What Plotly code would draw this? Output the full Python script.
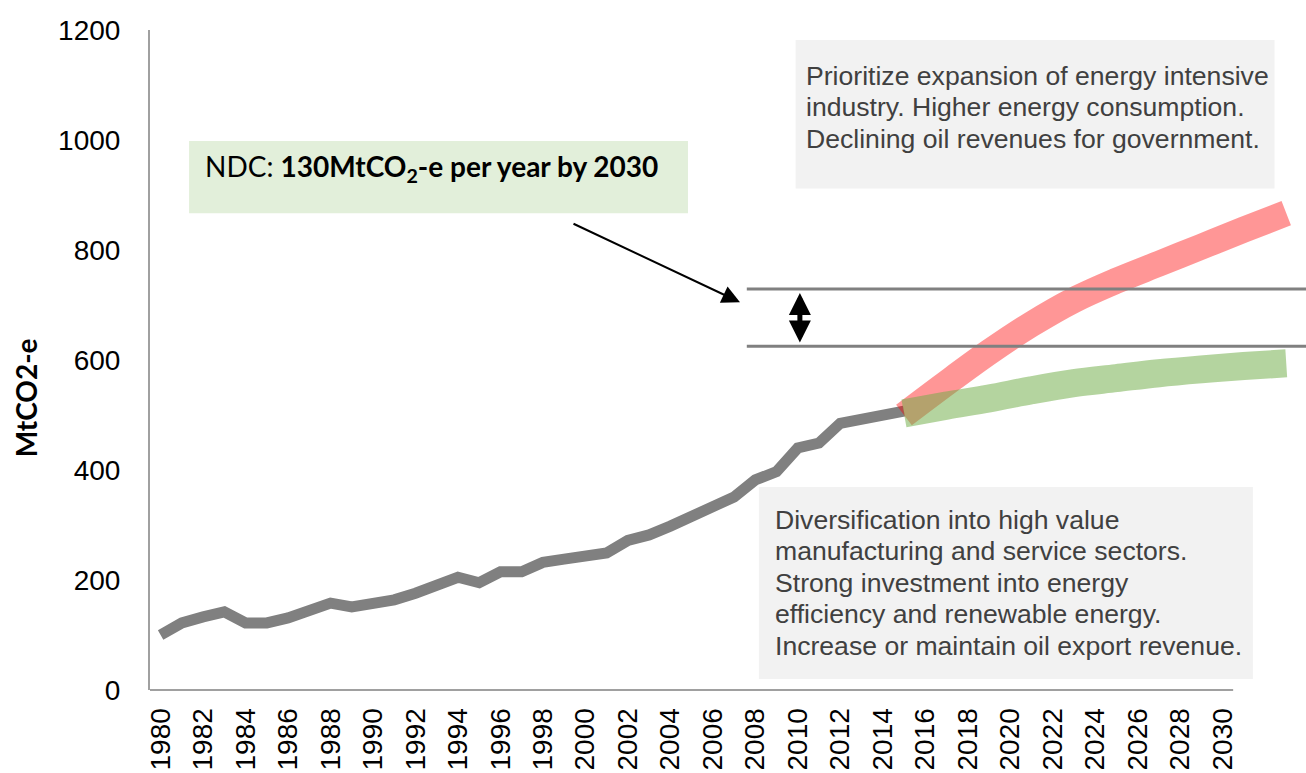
import plotly.graph_objects as go

# ---- data ----
hist_years = list(range(1980, 2016))
hist_values = [100, 122, 133, 142, 122, 122, 131, 144, 158, 151,
               155, 164, 176, 190, 205, 195, 215, 215, 232, 238,
               245, 249, 272, 282, 298, 315, 333, 351, 382, 397,
               440, 449, 485, 493, 503, 507]

proj_years = [2015, 2017, 2019, 2021, 2023, 2025, 2027, 2029, 2031, 2033]
high_values = [500, 558, 614, 665, 709, 744, 775, 806, 837, 867]
low_values = [503, 517, 530, 545, 558, 567, 576, 583, 589, 594]

ndc_levels = [729, 625]
x_ticks = list(range(1980, 2031, 2))
y_ticks = list(range(0, 1201, 200))

top_text = ["Prioritize expansion of energy intensive",
            "industry. Higher energy consumption.",
            "Declining oil revenues for government."]
bottom_text = ["Diversification into high value",
               "manufacturing and service sectors.",
               "Strong investment into energy",
               "efficiency and renewable energy.",
               "Increase or maintain oil export revenue."]

ARIAL = "Liberation Sans, Arial, sans-serif"
TXT = "#404040"

fig = go.Figure()

fig.add_trace(go.Scatter(x=hist_years, y=hist_values, mode="lines",
                         line=dict(color="#808080", width=11),
                         hoverinfo="skip", showlegend=False))
fig.add_trace(go.Scatter(x=proj_years, y=high_values, mode="lines",
                         line=dict(color="rgba(255,0,0,0.41)", width=26, shape="spline"),
                         hoverinfo="skip", showlegend=False))
fig.add_trace(go.Scatter(x=proj_years, y=low_values, mode="lines",
                         line=dict(color="rgba(112,173,71,0.52)", width=28, shape="spline"),
                         hoverinfo="skip", showlegend=False))

shapes = []
# x-axis line (only over the categories)
shapes.append(dict(type="line", xref="x", yref="paper", x0=1979.5, x1=2030.5, y0=0, y1=0,
                   line=dict(color="#A0A0A0", width=2), layer="above"))
# NDC level lines
for lv in ndc_levels:
    shapes.append(dict(type="line", xref="x", yref="y", x0=2007.6, x1=2035, y0=lv, y1=lv,
                       line=dict(color="#808080", width=3), layer="above"))
# text boxes
shapes.append(dict(type="rect", xref="x", yref="y", x0=2009.9, x1=2032.45, y0=912, y1=1182,
                   fillcolor="#F2F2F2", line=dict(width=0), layer="below"))
shapes.append(dict(type="rect", xref="x", yref="y", x0=2008.17, x1=2031.43, y0=20, y1=369,
                   fillcolor="#F2F2F2", line=dict(width=0), layer="below"))
shapes.append(dict(type="rect", xref="x", yref="y", x0=1981.34, x1=2004.83, y0=867, y1=998,
                   fillcolor="#E2EFDA", line=dict(width=0), layer="below"))

annotations = []
for txt, yv in zip(top_text, [1116, 1060, 1002]):
    annotations.append(dict(x=2010.3, y=yv, xref="x", yref="y", text=txt, showarrow=False,
                            xanchor="left", yanchor="middle",
                            font=dict(family=ARIAL, size=26.6, color=TXT)))
for txt, yv in zip(bottom_text, [309, 253, 195, 138, 80]):
    annotations.append(dict(x=2008.85, y=yv, xref="x", yref="y", text=txt, showarrow=False,
                            xanchor="left", yanchor="middle",
                            font=dict(family=ARIAL, size=26.6, color=TXT)))
annotations.append(dict(x=1982.0, y=949, xref="x", yref="y",
                        text="NDC: <b>130MtCO<sub>2</sub>-e per year by 2030</b>",
                        showarrow=False, xanchor="left", yanchor="middle",
                        font=dict(family="Lato, sans-serif", size=28, color="#000000")))
# pointer arrow
annotations.append(dict(x=2007.28, y=705, ax=1999.37, ay=849, xref="x", yref="y",
                        axref="x", ayref="y", text="", showarrow=True,
                        arrowhead=2, arrowsize=1.8, arrowwidth=2, arrowcolor="#000000"))
# double arrow between NDC lines
annotations.append(dict(x=2010.1, y=ndc_levels[0] - 7, ax=2010.1, ay=ndc_levels[1] + 4,
                        xref="x", yref="y", axref="x", ayref="y", text="", showarrow=True,
                        arrowhead=2, arrowside="end+start", arrowsize=0.88, startarrowsize=0.88,
                        startarrowhead=2, arrowwidth=5, arrowcolor="#000000"))
# y axis title
annotations.append(dict(x=-0.107, y=531, xref="paper", yref="y", text="<b>MtCO2-e</b>",
                        showarrow=False, textangle=-90, xanchor="center", yanchor="middle",
                        font=dict(family="Lato, sans-serif", size=28, color="#000000")))

fig.update_layout(
    width=1306, height=773,
    margin=dict(l=150, r=0, t=30, b=83, autoexpand=False),
    paper_bgcolor="white", plot_bgcolor="white",
    shapes=shapes, annotations=annotations,
    xaxis=dict(range=[1979.5, 2033.93], tickvals=x_ticks, ticktext=[str(v) for v in x_ticks],
               tickangle=-90, showgrid=False, zeroline=False, showline=False, automargin=False,
               ticks="outside", ticklen=6, tickcolor="rgba(0,0,0,0)",
               tickfont=dict(family=ARIAL, size=28, color="#000000")),
    yaxis=dict(range=[0, 1200], tickvals=y_ticks, showgrid=False, zeroline=False,
               showline=True, linecolor="#A0A0A0", linewidth=2, ticks="", automargin=False,
               ticklabelstandoff=22,
               tickfont=dict(family=ARIAL, size=28, color="#000000")),
    showlegend=False,
)

fig.write_html("out.html", config={"displayModeBar": False},
               post_script="document.body.style.margin='0px';")
